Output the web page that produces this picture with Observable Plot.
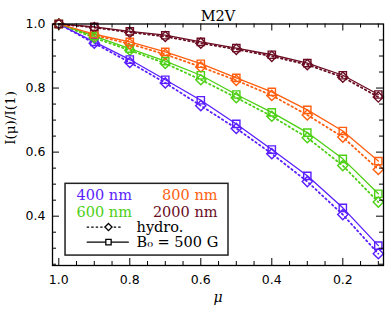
<!DOCTYPE html>
<html><head><meta charset="utf-8">
<script src="https://cdn.jsdelivr.net/npm/d3@7"></script>
<script src="https://cdn.jsdelivr.net/npm/@observablehq/plot@0.6"></script>
<style>body{margin:0;background:#fff}</style>
</head><body><div id="chart"></div>
<script>
// ---- data ----
const title = "M2V";
const mu = [1.0, 0.9, 0.8, 0.7, 0.6, 0.5, 0.4, 0.3, 0.2, 0.1];
const series = ["400 nm", "600 nm", "800 nm", "2000 nm"];
const colors = ["#5a1eff", "#4ccf14", "#ff5f0f", "#6a0c22"];
const hydro400 = [1.0, 0.940, 0.880, 0.816, 0.745, 0.674, 0.595, 0.508, 0.405, 0.283];
const mag400   = [1.0, 0.944, 0.889, 0.826, 0.762, 0.688, 0.608, 0.526, 0.426, 0.308];
const hydro600 = [1.0, 0.957, 0.918, 0.877, 0.826, 0.770, 0.712, 0.645, 0.558, 0.444];
const mag600   = [1.0, 0.962, 0.923, 0.884, 0.840, 0.780, 0.724, 0.661, 0.579, 0.470];
const hydro800 = [1.0, 0.965, 0.938, 0.905, 0.866, 0.824, 0.777, 0.716, 0.647, 0.546];
const mag800   = [1.0, 0.968, 0.944, 0.913, 0.876, 0.832, 0.788, 0.732, 0.666, 0.572];
const hydro2000 = [1.0, 0.989, 0.974, 0.961, 0.940, 0.921, 0.899, 0.873, 0.834, 0.772];
const mag2000   = [1.0, 0.991, 0.977, 0.965, 0.944, 0.925, 0.904, 0.878, 0.840, 0.780];
const xMajor = [1.0, 0.8, 0.6, 0.4, 0.2];
const xMinor = [0.95, 0.9, 0.85, 0.75, 0.7, 0.65, 0.55, 0.5, 0.45, 0.35, 0.3, 0.25, 0.15, 0.1];
const yMajor = [0.4, 0.6, 0.8];
const yMinor = [0.25, 0.3, 0.35, 0.45, 0.5, 0.55, 0.65, 0.7, 0.75, 0.85, 0.9, 0.95];
const modelLabels = ["hydro.", "B\u2080 = 500 G"];

// ---- build tables ----
const hydro = [hydro400, hydro600, hydro800, hydro2000];
const mag = [mag400, mag600, mag800, mag2000];
const hydroRows = [], magRows = [];
series.forEach((s, i) => mu.forEach((m, j) => {
  hydroRows.push({series: s, mu: m, v: hydro[i][j]});
  magRows.push({series: s, mu: m, v: mag[i][j]});
}));

// legend layout (in data units of the frame)
const L = {x1: 0.981, x2: 0.522, y1: 0.501, y2: 0.277,
  colStart: 0.950, colEnd: 0.553, rowY: [0.465, 0.4125, 0.366, 0.319],
  symA: 0.920, symB: 0.821, symC: 0.860, symB2: 0.804, textX: 0.781};
const legendLeft = [
  {label: series[0], color: colors[0], y: L.rowY[0]},
  {label: series[1], color: colors[1], y: L.rowY[1]}
];
const legendRight = [
  {label: series[2], color: colors[2], y: L.rowY[0]},
  {label: series[3], color: colors[3], y: L.rowY[1]}
];

const serif = "DejaVu Serif";
const sans = "DejaVu Sans";

const W = 387, H = 309, mL = 52, mR = 4, mT = 23.5, mB = 44;
const fw = W - mL - mR, fh = H - mT - mB;
const major = 7, minor = 4;
// inward tick helpers (rules spanning the frame, inset to tick length)
const xTicks = (ticks, len) => [
  Plot.ruleX(ticks, {x: d => d, stroke: "black", strokeWidth: 1, insetBottom: fh - len}),
  Plot.ruleX(ticks, {x: d => d, stroke: "black", strokeWidth: 1, insetTop: fh - len})
];
const yTicks = (ticks, len) => [
  Plot.ruleY(ticks, {y: d => d, stroke: "black", strokeWidth: 1, insetRight: fw - len}),
  Plot.ruleY(ticks, {y: d => d, stroke: "black", strokeWidth: 1, insetLeft: fw - len})
];

const plot = Plot.plot({
  width: W, height: H,
  marginLeft: mL, marginRight: mR, marginTop: mT, marginBottom: mB,
  style: {fontFamily: sans, fontSize: "12.5px", background: "white", color: "black"},
  x: {domain: [1.0177, 0.0854]},
  y: {domain: [0.246, 1.0]},
  color: {domain: series, range: colors},
  marks: [
    // data
    Plot.line(hydroRows, {x: "mu", y: "v", z: "series", stroke: "series", strokeWidth: 1.8, strokeDasharray: "1.5,3"}),
    Plot.line(magRows, {x: "mu", y: "v", z: "series", stroke: "series", strokeWidth: 1.3}),
    Plot.dot(hydroRows, {x: "mu", y: "v", stroke: "series", symbol: "diamond2", r: 4.6, strokeWidth: 1.4}),
    Plot.dot(magRows, {x: "mu", y: "v", stroke: "series", symbol: "square", r: 4.1, strokeWidth: 1.4}),
    // axes: labels + inward ticks on all sides
    Plot.axisX(xMajor, {anchor: "bottom", tickSize: 0, tickPadding: 10, tickFormat: d3.format(".1f"), fontFamily: sans, fontSize: 12.5}),
    Plot.axisY([...yMajor, 1.0], {anchor: "left", tickSize: 0, tickPadding: 7, tickFormat: d3.format(".1f"), fontFamily: sans, fontSize: 12.5}),
    ...xTicks(xMajor, major), ...xTicks(xMinor, minor),
    ...yTicks(yMajor, major), ...yTicks(yMinor, minor),
    Plot.frame({stroke: "black", strokeWidth: 1.3}),
    // labels
    Plot.text([title], {frameAnchor: "top", dy: -13, fontFamily: serif, fontSize: 14.5, fill: "black"}),
    Plot.text(["\u03bc"], {frameAnchor: "bottom", dy: 36, fontFamily: serif, fontStyle: "italic", fontSize: 14, fill: "black"}),
    Plot.text(["I(\u03bc)/I(1)"], {frameAnchor: "left", dx: -42, rotate: -90, fontFamily: serif, fontSize: 13.5, fill: "black"}),
    // legend
    Plot.rect([0], {x1: L.x1, x2: L.x2, y1: L.y1, y2: L.y2, fill: "white", stroke: "#222", strokeWidth: 1.5}),
    Plot.text(legendLeft, {x: L.colStart, y: "y", text: "label", fill: "color", textAnchor: "start", fontFamily: serif, fontSize: 14.5}),
    Plot.text(legendRight, {x: L.colEnd, y: "y", text: "label", fill: "color", textAnchor: "end", fontFamily: serif, fontSize: 14.5}),
    Plot.line([{x: L.symA, y: L.rowY[2]}, {x: L.symB, y: L.rowY[2]}], {x: "x", y: "y", stroke: "black", strokeWidth: 1.3, strokeDasharray: "1.5,3"}),
    Plot.dot([{x: L.symC, y: L.rowY[2]}], {x: "x", y: "y", symbol: "diamond2", r: 3.2, stroke: "black", fill: "white", strokeWidth: 1.3}),
    Plot.line([{x: L.symA, y: L.rowY[3]}, {x: L.symB2, y: L.rowY[3]}], {x: "x", y: "y", stroke: "black", strokeWidth: 1.3}),
    Plot.dot([{x: L.symC, y: L.rowY[3]}], {x: "x", y: "y", symbol: "square", r: 3.0, stroke: "black", fill: "white", strokeWidth: 1.3}),
    Plot.text([{t: modelLabels[0], y: L.rowY[2]}, {t: modelLabels[1], y: L.rowY[3]}], {x: L.textX, y: "y", text: "t", textAnchor: "start", fill: "black", fontFamily: serif, fontSize: 14.5})
  ]
});
document.getElementById("chart").appendChild(plot);
</script>
</body></html>
